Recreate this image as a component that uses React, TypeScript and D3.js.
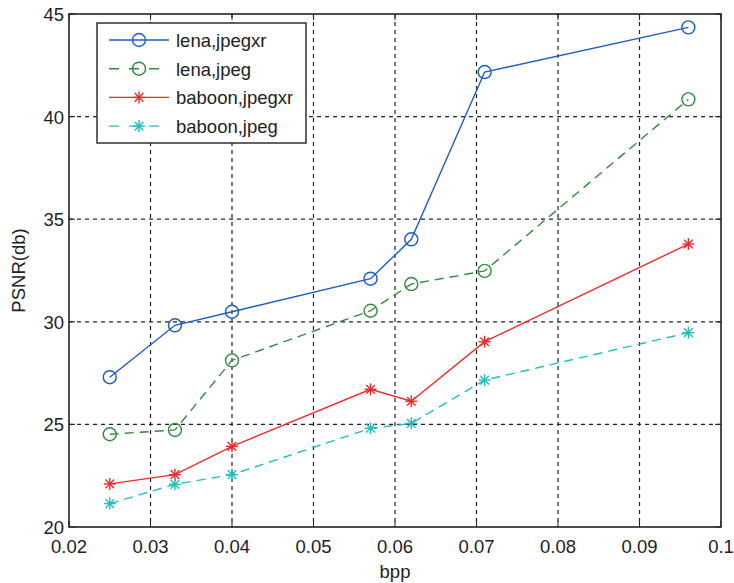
import React from 'react';
import * as d3 from 'd3';

const bpp = [0.025, 0.033, 0.04, 0.057, 0.062, 0.071, 0.096];
const lenaJpegxr = [27.3, 29.83, 30.49, 32.1, 34.02, 42.17, 44.35];
const lenaJpeg = [24.52, 24.73, 28.12, 30.54, 31.84, 32.48, 40.84];
const baboonJpegxr = [22.1, 22.55, 23.93, 26.71, 26.13, 29.03, 33.79];
const baboonJpeg = [21.14, 22.08, 22.55, 24.81, 25.05, 27.16, 29.47];
const xTicks = [0.02, 0.03, 0.04, 0.05, 0.06, 0.07, 0.08, 0.09, 0.1];
const yTicks = [20, 25, 30, 35, 40, 45];

const series = [
  { name: 'lena,jpegxr', values: lenaJpegxr, color: '#1f5cbf', dash: null, marker: 'circle' },
  { name: 'lena,jpeg', values: lenaJpeg, color: '#338a3f', dash: '9,6', marker: 'circle' },
  { name: 'baboon,jpegxr', values: baboonJpegxr, color: '#f02a2a', dash: null, marker: 'star' },
  { name: 'baboon,jpeg', values: baboonJpeg, color: '#22bdbd', dash: '9,6', marker: 'star' },
];

const W = 734;
const H = 583;
const margin = { top: 14, right: 13, bottom: 56, left: 69 };
const font = 'Liberation Sans, Arial, sans-serif';

const Marker = ({ type, x, y, color }) => {
  if (type === 'circle') {
    return <circle cx={x} cy={y} r={6.5} fill="none" stroke={color} strokeWidth={1.4} />;
  }
  const s = 6;
  const d = s * 0.72;
  return (
    <g stroke={color} strokeWidth={1.4}>
      <line x1={x - s} y1={y} x2={x + s} y2={y} />
      <line x1={x} y1={y - s} x2={x} y2={y + s} />
      <line x1={x - d} y1={y - d} x2={x + d} y2={y + d} />
      <line x1={x - d} y1={y + d} x2={x + d} y2={y - d} />
    </g>
  );
};

export default function App() {
  const x = d3.scaleLinear().domain([0.02, 0.1]).range([margin.left, W - margin.right]);
  const y = d3.scaleLinear().domain([20, 45]).range([H - margin.bottom, margin.top]);
  const line = d3.line<number>().x((_, i) => x(bpp[i])).y((v) => y(v));
  const [x0, x1] = x.range();
  const [y0, y1] = y.range();

  return (
    <svg width={W} height={H} style={{ position: 'absolute', left: 0, top: 0, background: '#fff' }} fontFamily={font}>
      {/* grid */}
      <g stroke="#222" strokeWidth={1.2} strokeDasharray="4,4">
        {xTicks.slice(1, -1).map((t) => (
          <line key={'gx' + t} x1={x(t)} x2={x(t)} y1={y1} y2={y0} />
        ))}
        {yTicks.slice(1, -1).map((t) => (
          <line key={'gy' + t} x1={x0} x2={x1} y1={y(t)} y2={y(t)} />
        ))}
      </g>
      {/* ticks inward */}
      <g stroke="#222" strokeWidth={1}>
        {xTicks.map((t) => (
          <g key={'tx' + t}>
            <line x1={x(t)} x2={x(t)} y1={y0} y2={y0 - 6} />
            <line x1={x(t)} x2={x(t)} y1={y1} y2={y1 + 6} />
          </g>
        ))}
        {yTicks.map((t) => (
          <g key={'ty' + t}>
            <line x1={x0} x2={x0 + 6} y1={y(t)} y2={y(t)} />
            <line x1={x1} x2={x1 - 6} y1={y(t)} y2={y(t)} />
          </g>
        ))}
      </g>
      {/* series */}
      {series.map((s) => (
        <g key={s.name}>
          <path d={line(s.values) || ''} fill="none" stroke={s.color} strokeWidth={1.4} strokeDasharray={s.dash || undefined} />
          {s.values.map((v, i) => (
            <Marker key={i} type={s.marker} x={x(bpp[i])} y={y(v)} color={s.color} />
          ))}
        </g>
      ))}
      {/* frame */}
      <rect x={x0} y={y1} width={x1 - x0} height={y0 - y1} fill="none" stroke="#222" strokeWidth={1.6} />
      {/* tick labels */}
      <g fontSize={18.5} fill="#222">
        {xTicks.map((t) => (
          <text key={'lx' + t} x={x(t)} y={y0 + 26} textAnchor="middle">
            {d3.format('~g')(t)}
          </text>
        ))}
        {yTicks.map((t) => (
          <text key={'ly' + t} x={x0 - 5} y={y(t) + 7} textAnchor="end">
            {t}
          </text>
        ))}
      </g>
      <text x={(x0 + x1) / 2} y={578} textAnchor="middle" fontSize={18.5} fill="#222">bpp</text>
      <text transform={`translate(25,${(y0 + y1) / 2}) rotate(-90)`} textAnchor="middle" fontSize={18.5} fill="#222">PSNR(db)</text>
      {/* legend */}
      <g>
        <rect x={97} y={23} width={209} height={120} fill="#fff" stroke="#222" strokeWidth={1.4} />
        {series.map((s, i) => {
          const ly = 40 + i * 28.7;
          return (
            <g key={'lg' + s.name}>
              <line x1={109} x2={169} y1={ly} y2={ly} stroke={s.color} strokeWidth={1.4} strokeDasharray={s.dash ? '10,10' : undefined} />
              <Marker type={s.marker} x={139} y={ly} color={s.color} />
              <text x={176} y={ly + 7} fontSize={18.5} fill="#222">{s.name}</text>
            </g>
          );
        })}
      </g>
    </svg>
  );
}
